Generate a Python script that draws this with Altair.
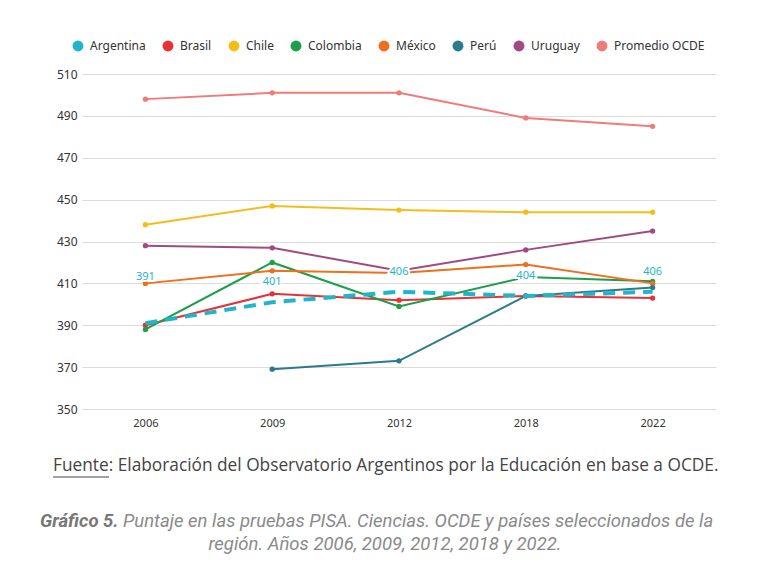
import altair as alt
import pandas as pd

years = ["2006", "2009", "2012", "2018", "2022"]
series_names = ["Argentina", "Brasil", "Chile", "Colombia", "México", "Perú", "Uruguay", "Promedio OCDE"]
colors = ["#22b5c8", "#e53238", "#f3bd1a", "#1d9e4a", "#ee6f1c", "#2a7b8c", "#a04a80", "#ee7c78"]

argentina = [391, 401, 406, 404, 406]
brasil = [390, 405, 402, 404, 403]
chile = [438, 447, 445, 444, 444]
colombia = [388, 420, 399, 413, 411]
mexico = [410, 416, 415, 419, 410]
peru = [None, 369, 373, 404, 408]
uruguay = [428, 427, 416, 426, 435]
ocde = [498, 501, 501, 489, 485]

all_values = [argentina, brasil, chile, colombia, mexico, peru, uruguay, ocde]
rows = []
for name, vals in zip(series_names, all_values):
    for y, v in zip(years, vals):
        if v is not None:
            rows.append({"pais": name, "year": y, "score": v})
df = pd.DataFrame(rows)
arg = df[df["pais"] == "Argentina"]
others = df[df["pais"] != "Argentina"]

x_enc = alt.X("year:O", sort=years, title=None,
              scale=alt.Scale(type="point", padding=0.5),
              axis=alt.Axis(labelAngle=0, labelFontSize=11, labelColor="#333333",
                            labelFont="Noto Sans", labelPadding=8, ticks=False,
                            domain=False, grid=False))
y_enc = alt.Y("score:Q", title=None,
              scale=alt.Scale(domain=[350, 510], nice=False, zero=False),
              axis=alt.Axis(values=list(range(350, 511, 20)), labelFontSize=12,
                            labelColor="#333333", labelFont="Noto Sans", labelPadding=5,
                            ticks=False, domain=False, grid=True, gridColor="#dcdcdc",
                            gridWidth=1))
color_enc = alt.Color("pais:N", scale=alt.Scale(domain=series_names, range=colors),
                      sort=series_names,
                      legend=alt.Legend(title=None, orient="none", direction="horizontal",
                                        legendX=-10, legendY=-34, symbolType="circle",
                                        symbolSize=120, symbolStrokeWidth=0,
                                        labelFont="Noto Sans", labelFontSize=12,
                                        labelColor="#333333", columnPadding=16,
                                        labelOffset=6, columns=8))

base_o = alt.Chart(others)
lines = base_o.mark_line(strokeWidth=2).encode(x=x_enc, y=y_enc, color=color_enc)
points = base_o.mark_circle(size=28, opacity=1).encode(x=x_enc, y=y_enc, color=color_enc)

base_a = alt.Chart(arg)
arg_line = base_a.mark_line(strokeWidth=4, strokeDash=[12, 8]).encode(
    x=x_enc, y=y_enc, color=color_enc)

def labels(data, dy):
    halo = alt.Chart(data).mark_text(dy=dy, fontSize=11, font="Noto Sans", stroke="white",
                                     strokeWidth=4, fill="white").encode(
        x=x_enc, y=y_enc, text="score:Q")
    txt = alt.Chart(data).mark_text(dy=dy, fontSize=11, font="Noto Sans",
                                    color="#22b5c8").encode(
        x=x_enc, y=y_enc, text="score:Q")
    return halo + txt

lab_first = labels(arg[arg["year"] == "2006"], -46)
lab_rest = labels(arg[arg["year"] != "2006"], -20)

fuente_line = "Fuente: Elaboración del Observatorio Argentinos por la Educación en base a OCDE."
cap_bold = "Gráfico 5."
cap_line1 = "Puntaje en las pruebas PISA. Ciencias. OCDE y países seleccionados de la"
cap_line2 = "región. Años 2006, 2009, 2012, 2018 y 2022."

one = pd.DataFrame({"k": [0]})
f1 = alt.Chart(one).mark_text(align="left", baseline="middle", fontSize=17.3,
                              font="Open Sans", color="#444444", text=fuente_line).encode(
    x=alt.value(-29), y=alt.value(392))
ul = alt.Chart(one).mark_rule(color="#444444", strokeWidth=1).encode(
    x=alt.value(-29), x2=alt.value(27), y=alt.value(403))
c1 = alt.Chart(one).mark_text(align="left", baseline="middle", fontSize=18.5,
                              font="Roboto", fontStyle="italic", fontWeight="bold",
                              color="#777777", text=cap_bold).encode(
    x=alt.value(-42), y=alt.value(447))
c2 = alt.Chart(one).mark_text(align="left", baseline="middle", fontSize=18.5,
                              font="Roboto", fontStyle="italic", color="#8a8a8a",
                              text=cap_line1).encode(
    x=alt.value(41), y=alt.value(447))
c3 = alt.Chart(one).mark_text(align="center", baseline="middle", fontSize=18.5,
                              font="Roboto", fontStyle="italic", color="#8a8a8a",
                              text=cap_line2).encode(
    x=alt.value(303), y=alt.value(470))

chart = alt.layer(lines, points, arg_line, lab_first, lab_rest, f1, ul, c1, c2, c3).properties(
    width=634, height=335,
    autosize=alt.AutoSizeParams(type="none"),
    padding={"left": 74, "top": 66, "right": 30, "bottom": 150},
).configure(background="white").configure_view(stroke=None, strokeWidth=0)

chart.save("out.html", embed_options={"renderer": "svg", "actions": False})
